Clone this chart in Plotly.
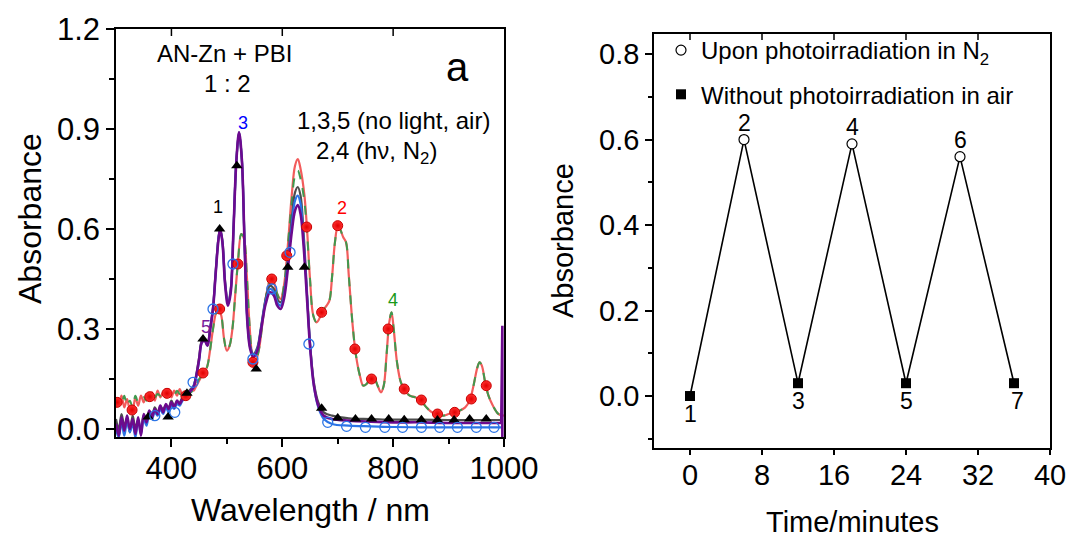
import plotly.graph_objects as go

W, H = 1070, 539
FONT = "Liberation Sans, Arial, sans-serif"

# ---------------- Panel a : spectra ----------------
wl_air = [300, 305, 310, 315, 320, 325, 330, 335, 340, 345, 350, 355, 360, 365, 370, 375, 380, 385, 390, 395,
          400, 405, 410, 415, 420, 425, 430, 435, 440, 445, 450,
          455, 460, 465, 470, 475, 480, 485, 488, 492, 497,
          502, 507, 512, 517, 522, 527, 532, 537, 542, 548,
          555, 562, 570, 578, 585, 591, 597, 603, 610, 617,
          623, 628, 633, 638, 645, 650, 657, 665, 675, 690,
          720, 760, 800, 850, 900, 950, 995]

abs_1 = [0.03, 0.0, 0.045, 0.01, 0.03, -0.01, 0.04, 0.005, 0.025, -0.005, 0.04, 0.025, 0.05, 0.04, 0.065, 0.05,
         0.065, 0.06, 0.07, 0.065, 0.085, 0.07, 0.08, 0.08, 0.095, 0.1, 0.11, 0.12, 0.13, 0.165, 0.215,
         0.265, 0.27, 0.255, 0.305, 0.365, 0.475, 0.575, 0.60, 0.565, 0.44,
         0.38, 0.42, 0.60, 0.80, 0.89, 0.81, 0.56, 0.33, 0.25, 0.225,
         0.245, 0.31, 0.39, 0.43, 0.42, 0.39, 0.38, 0.41, 0.51, 0.63,
         0.71, 0.726, 0.70, 0.60, 0.40, 0.26, 0.14, 0.08, 0.05, 0.04,
         0.032, 0.03, 0.028, 0.028, 0.027, 0.027, 0.027]

abs_3 = [0.0, -0.025, 0.02, -0.02, 0.025, -0.01, 0.015, -0.025, 0.03, -0.015, 0.03, 0.01, 0.045, 0.03, 0.05, 0.04,
         0.06, 0.045, 0.065, 0.05, 0.07, 0.06, 0.075, 0.07, 0.085, 0.09, 0.1, 0.115, 0.13, 0.16, 0.205,
         0.26, 0.265, 0.25, 0.30, 0.36, 0.47, 0.575, 0.60, 0.56, 0.435,
         0.375, 0.415, 0.60, 0.80, 0.89, 0.81, 0.555, 0.325, 0.245, 0.22,
         0.24, 0.305, 0.385, 0.42, 0.41, 0.38, 0.37, 0.40, 0.50, 0.61,
         0.685, 0.70, 0.675, 0.58, 0.39, 0.255, 0.13, 0.065, 0.03, 0.015,
         0.01, 0.008, 0.006, 0.005, 0.005, 0.005, 0.005]

abs_5 = [0.015, -0.02, 0.035, -0.005, 0.04, 0.0, 0.03, -0.015, 0.035, -0.02, 0.045, 0.02, 0.055, 0.035, 0.06, 0.045,
         0.07, 0.05, 0.075, 0.06, 0.08, 0.065, 0.085, 0.075, 0.09, 0.095, 0.105, 0.115, 0.125, 0.16, 0.21,
         0.26, 0.265, 0.25, 0.30, 0.36, 0.47, 0.57, 0.60, 0.56, 0.43,
         0.37, 0.41, 0.60, 0.80, 0.89, 0.81, 0.55, 0.32, 0.24, 0.215,
         0.235, 0.30, 0.375, 0.41, 0.40, 0.37, 0.36, 0.39, 0.48, 0.59,
         0.655, 0.672, 0.645, 0.56, 0.38, 0.25, 0.13, 0.07, 0.04, 0.03,
         0.025, 0.022, 0.02, 0.02, 0.018, 0.018, 0.018]

spike_wl = [995, 997, 997]
spike_abs = [0.018, 0.31, -0.05]

wl_n2 = [300, 305, 310, 315, 320, 325, 330, 335, 340, 345, 350, 355, 360, 365, 370, 375, 380, 385, 390, 395,
         400, 405, 410, 415, 420, 425, 430, 435, 440, 445, 450,
         455, 460, 465, 470, 475, 480, 485, 490, 495, 500,
         505, 510, 515, 520, 526, 531, 536, 541, 546, 551,
         558, 565, 572, 579, 585, 591, 597, 603, 610, 617,
         623, 628, 633, 640, 645, 650, 656, 662, 668, 673,
         680, 685, 690, 695, 700, 704, 710, 715, 720, 727,
         733, 740, 746, 752, 758, 765, 772, 778, 783, 788,
         793, 797, 801, 807, 814, 822, 830, 840, 850, 860,
         870, 880, 890, 900, 910, 920, 930, 938, 945, 952,
         956, 960, 966, 972, 980, 990, 1000]

abs_2 = [0.085, 0.07, 0.1, 0.065, 0.09, 0.06, 0.06, 0.095, 0.07, 0.1, 0.08, 0.105, 0.09, 0.11, 0.085, 0.115,
         0.095, 0.11, 0.1, 0.12, 0.095, 0.115, 0.1, 0.12, 0.1, 0.11, 0.105, 0.12, 0.115, 0.13, 0.145,
         0.16, 0.17, 0.19, 0.24, 0.30, 0.345, 0.36, 0.34, 0.27, 0.235,
         0.25, 0.30, 0.40, 0.50, 0.585, 0.57, 0.46, 0.31, 0.22, 0.20,
         0.24, 0.33, 0.41, 0.45, 0.44, 0.405, 0.39, 0.43, 0.55, 0.70,
         0.79, 0.81, 0.78, 0.70, 0.59, 0.45, 0.34, 0.32, 0.335, 0.355,
         0.37, 0.385, 0.46, 0.56, 0.605, 0.60, 0.575, 0.56, 0.46, 0.31,
         0.22, 0.16, 0.13, 0.135, 0.15, 0.155, 0.13, 0.11, 0.13, 0.22,
         0.32, 0.35, 0.30, 0.20, 0.14, 0.115, 0.10, 0.095, 0.085, 0.065,
         0.05, 0.045, 0.04, 0.045, 0.05, 0.055, 0.065, 0.085, 0.13, 0.185,
         0.20, 0.19, 0.14, 0.10, 0.07, 0.045, 0.04]

abs_4 = [0.07, 0.09, 0.075, 0.1, 0.07, 0.085, 0.065, 0.1, 0.08, 0.09, 0.095, 0.085, 0.105, 0.1, 0.095, 0.105,
         0.1, 0.115, 0.095, 0.11, 0.105, 0.1, 0.115, 0.105, 0.11, 0.1, 0.115, 0.11, 0.12, 0.135, 0.15,
         0.16, 0.17, 0.19, 0.24, 0.30, 0.345, 0.36, 0.34, 0.27, 0.235,
         0.25, 0.30, 0.40, 0.50, 0.585, 0.57, 0.46, 0.31, 0.22, 0.20,
         0.24, 0.33, 0.41, 0.45, 0.44, 0.405, 0.385, 0.43, 0.55, 0.68,
         0.76, 0.775, 0.75, 0.68, 0.58, 0.45, 0.34, 0.32, 0.335, 0.355,
         0.37, 0.385, 0.46, 0.56, 0.605, 0.60, 0.575, 0.56, 0.46, 0.31,
         0.22, 0.16, 0.13, 0.135, 0.15, 0.155, 0.13, 0.11, 0.13, 0.22,
         0.32, 0.35, 0.30, 0.20, 0.14, 0.115, 0.10, 0.095, 0.085, 0.065,
         0.05, 0.045, 0.04, 0.045, 0.05, 0.055, 0.065, 0.085, 0.13, 0.185,
         0.20, 0.19, 0.14, 0.10, 0.07, 0.045, 0.04]

# symbols sitting on the curves
sph_wl = [302, 329, 361, 392, 426, 457, 487, 520, 547, 581, 608, 644, 671, 700, 731, 761, 791, 820, 851, 880, 911, 941, 968]
sph_abs = [0.08, 0.057, 0.097, 0.107, 0.10, 0.168, 0.36, 0.495, 0.20, 0.45, 0.52, 0.606, 0.35, 0.61, 0.24, 0.15,
           0.30, 0.12, 0.087, 0.045, 0.05, 0.09, 0.13]
tri_wl = [358, 394, 428, 457, 487, 518, 553, 610, 640, 671, 700, 732, 761, 792, 820, 851, 880, 910, 938, 968]
tri_abs = [0.036, 0.036, 0.107, 0.27, 0.60, 0.79, 0.18, 0.485, 0.485, 0.062, 0.033, 0.03, 0.03, 0.03, 0.028,
           0.028, 0.027, 0.027, 0.03, 0.03]
circ_wl = [370, 406, 439, 475, 511, 547, 581, 614, 648, 682, 716, 750, 785, 817, 851, 884, 916, 950, 982]
circ_abs = [0.04, 0.05, 0.14, 0.36, 0.495, 0.21, 0.42, 0.53, 0.255, 0.02, 0.008, 0.005, 0.005, 0.005, 0.005,
            0.005, 0.005, 0.005, 0.005]
wl_ticks = [400, 600, 800, 1000]
wl_top_ticks = [400, 600, 800]

# ---------------- Panel b : cycling ----------------
time_min = [0, 6, 12, 18, 24, 30, 36]
cycle_abs = [0.0, 0.60, 0.03, 0.59, 0.03, 0.56, 0.03]
cycle_labels = ["1", "2", "3", "4", "5", "6", "7"]
time_ticks = [0, 8, 16, 24, 32, 40]
time_top_ticks = [0, 8, 16, 24, 32]

C_RED, C_GREEN, C_GRAY, C_BLUE, C_PURPLE = "#f25c5c", "#3f9a4f", "#4d4d4d", "#2b74e6", "#6c0a8e"

fig = go.Figure()
common = dict(mode="lines", line_shape="spline", showlegend=False, hoverinfo="skip")
fig.add_trace(go.Scatter(x=wl_n2, y=abs_2, line=dict(color=C_RED, width=2.2), **common))
fig.add_trace(go.Scatter(x=wl_n2, y=abs_4, line=dict(color=C_GREEN, width=2, dash="dash"), **common))
fig.add_trace(go.Scatter(x=wl_air, y=abs_1, line=dict(color=C_GRAY, width=2.2), **common))
fig.add_trace(go.Scatter(x=wl_air, y=abs_3, line=dict(color=C_BLUE, width=2.2), **common))
fig.add_trace(go.Scatter(x=wl_air, y=abs_5, line=dict(color=C_PURPLE, width=2.6), **common))
fig.add_trace(go.Scatter(x=spike_wl, y=spike_abs, mode="lines", line=dict(color=C_PURPLE, width=2.6),
                         showlegend=False, hoverinfo="skip"))
fig.add_trace(go.Scatter(x=sph_wl, y=sph_abs, mode="markers", showlegend=False, cliponaxis=True,
                         marker=dict(symbol="circle", size=10, color="#ff3030", line=dict(color="#c80000", width=1),
                                     gradient=dict(type="radial", color="#e00000"))))
fig.add_trace(go.Scatter(x=tri_wl, y=tri_abs, mode="markers", showlegend=False, cliponaxis=True,
                         marker=dict(symbol="triangle-up", size=10, color="black")))
fig.add_trace(go.Scatter(x=circ_wl, y=circ_abs, mode="markers", showlegend=False, cliponaxis=True,
                         marker=dict(symbol="circle-open", size=10, color=C_BLUE, line=dict(width=1.3))))

# panel b
fig.add_trace(go.Scatter(x=time_min, y=cycle_abs, mode="lines", line=dict(color="black", width=1.6),
                         xaxis="x2", yaxis="y2", showlegend=False, hoverinfo="skip"))
fig.add_trace(go.Scatter(x=time_min[1::2], y=cycle_abs[1::2], mode="markers", xaxis="x2", yaxis="y2",
                         name="Upon photoirradiation in N<sub>2</sub>", legendgroup="g1",
                         marker=dict(symbol="circle", size=10, color="white", line=dict(color="black", width=1.2))))
fig.add_trace(go.Scatter(x=time_min[0::2], y=cycle_abs[0::2], mode="markers", xaxis="x2", yaxis="y2",
                         name="Without photoirradiation in air", legendgroup="g2",
                         marker=dict(symbol="square", size=10, color="black")))

def px(x):
    return x / W

def py(y):
    return 1 - y / H

axis_common = dict(showgrid=False, zeroline=False, showline=True, linecolor="black", linewidth=1.5,
                   ticks="outside", tickcolor="black", tickwidth=1.5, mirror=True, automargin=False)

TOP_A, TOP_B = py(29), py(34)

fig.update_layout(
    template="none",
    width=W, height=H, margin=dict(l=0, r=0, t=0, b=0, pad=0), autosize=False,
    paper_bgcolor="white", plot_bgcolor="white",
    font=dict(family=FONT, color="black"),
    xaxis=dict(domain=[px(116), px(504)], range=[300, 1000], anchor="y",
               tickvals=wl_ticks, ticklen=8, tickfont=dict(size=31), ticklabelstandoff=-5,
               minor=dict(tickvals=[500, 700, 900], ticks="outside", ticklen=5, tickcolor="black", tickwidth=1.5),
               **axis_common),
    yaxis=dict(domain=[py(437), TOP_A], range=[-0.024, 1.2], anchor="x",
               tickvals=[0.0, 0.3, 0.6, 0.9, 1.2], tickformat=".1f", ticklen=8, tickfont=dict(size=31),
               minor=dict(tickvals=[0.15, 0.45, 0.75, 1.05], ticks="outside", ticklen=5, tickcolor="black", tickwidth=1.5),
               **axis_common),
    xaxis2=dict(domain=[px(654), px(1050)], range=[-4, 40], anchor="y2",
                tickvals=time_ticks, ticklen=5, tickfont=dict(size=29), ticklabelstandoff=-5,
                **axis_common),
    yaxis2=dict(domain=[py(448), TOP_B], range=[-0.1216, 0.847], anchor="x2",
                tickvals=[0.0, 0.2, 0.4, 0.6, 0.8], tickformat=".1f", ticklen=7, tickfont=dict(size=29),
                minor=dict(tickvals=[-0.1, 0.1, 0.3, 0.5, 0.7], ticks="outside", ticklen=4, tickcolor="black", tickwidth=1.5),
                **axis_common),
    legend=dict(x=px(661), y=py(28), xanchor="left", yanchor="top", bgcolor="rgba(0,0,0,0)",
                font=dict(size=24, family=FONT), tracegroupgap=10, itemwidth=30),
)

# inward-pointing tick marks on the top frame edges
shapes = []
for v in wl_top_ticks:
    shapes.append(dict(type="line", xref="x", yref="paper", x0=v, x1=v, y0=TOP_A, y1=TOP_A - 7 / H,
                       line=dict(color="black", width=1.5)))
for v in time_top_ticks:
    shapes.append(dict(type="line", xref="x2", yref="paper", x0=v, x1=v, y0=TOP_B, y1=TOP_B - 6 / H,
                       line=dict(color="black", width=1.5)))
fig.update_layout(shapes=shapes)

ann = []
def A(text, x, y, size, color="black", xref="paper", yref="paper", **kw):
    ann.append(dict(text=text, x=x, y=y, xref=xref, yref=yref, showarrow=False,
                    xanchor=kw.pop("xanchor", "center"), yanchor=kw.pop("yanchor", "middle"),
                    font=dict(size=size, color=color, family=FONT), **kw))

# axis titles
A("Absorbance", px(30), py(219), 32, textangle=-90)
A("Wavelength / nm", px(310), py(510), 32)
A("Absorbance", px(563), py(241), 29, textangle=-90)
A("Time/minutes", px(852), py(522), 29)

# panel a texts
A("AN-Zn + PBI", 496, 1.128, 24, xref="x", yref="y")
A("1 : 2", 502, 1.038, 24, xref="x", yref="y")
A("a", 916, 1.086, 40, xref="x", yref="y")
A("1,3,5 (no light, air)", 801, 0.927, 24, xref="x", yref="y")
A("2,4 (h\u03bd, N<sub>2</sub>)", 770, 0.83, 24, xref="x", yref="y")
A("1", 484, 0.666, 18, "black", xref="x", yref="y")
A("2", 707, 0.663, 18, "#ff0000", xref="x", yref="y")
A("3", 529, 0.918, 18, "#0000ff", xref="x", yref="y")
A("4", 799, 0.387, 18, "#1a9a1a", xref="x", yref="y")
A("5", 462, 0.306, 18, "#7a1a9a", xref="x", yref="y")

# panel b point labels
for i, (t, v, lab) in enumerate(zip(time_min, cycle_abs, cycle_labels)):
    shift = 17 if i % 2 == 1 else -18
    A(lab, t, v, 23, xref="x2", yref="y2", yshift=shift, xshift=(3 if i == 6 else 0))

fig.update_layout(annotations=ann)
fig.write_html("out.html")
